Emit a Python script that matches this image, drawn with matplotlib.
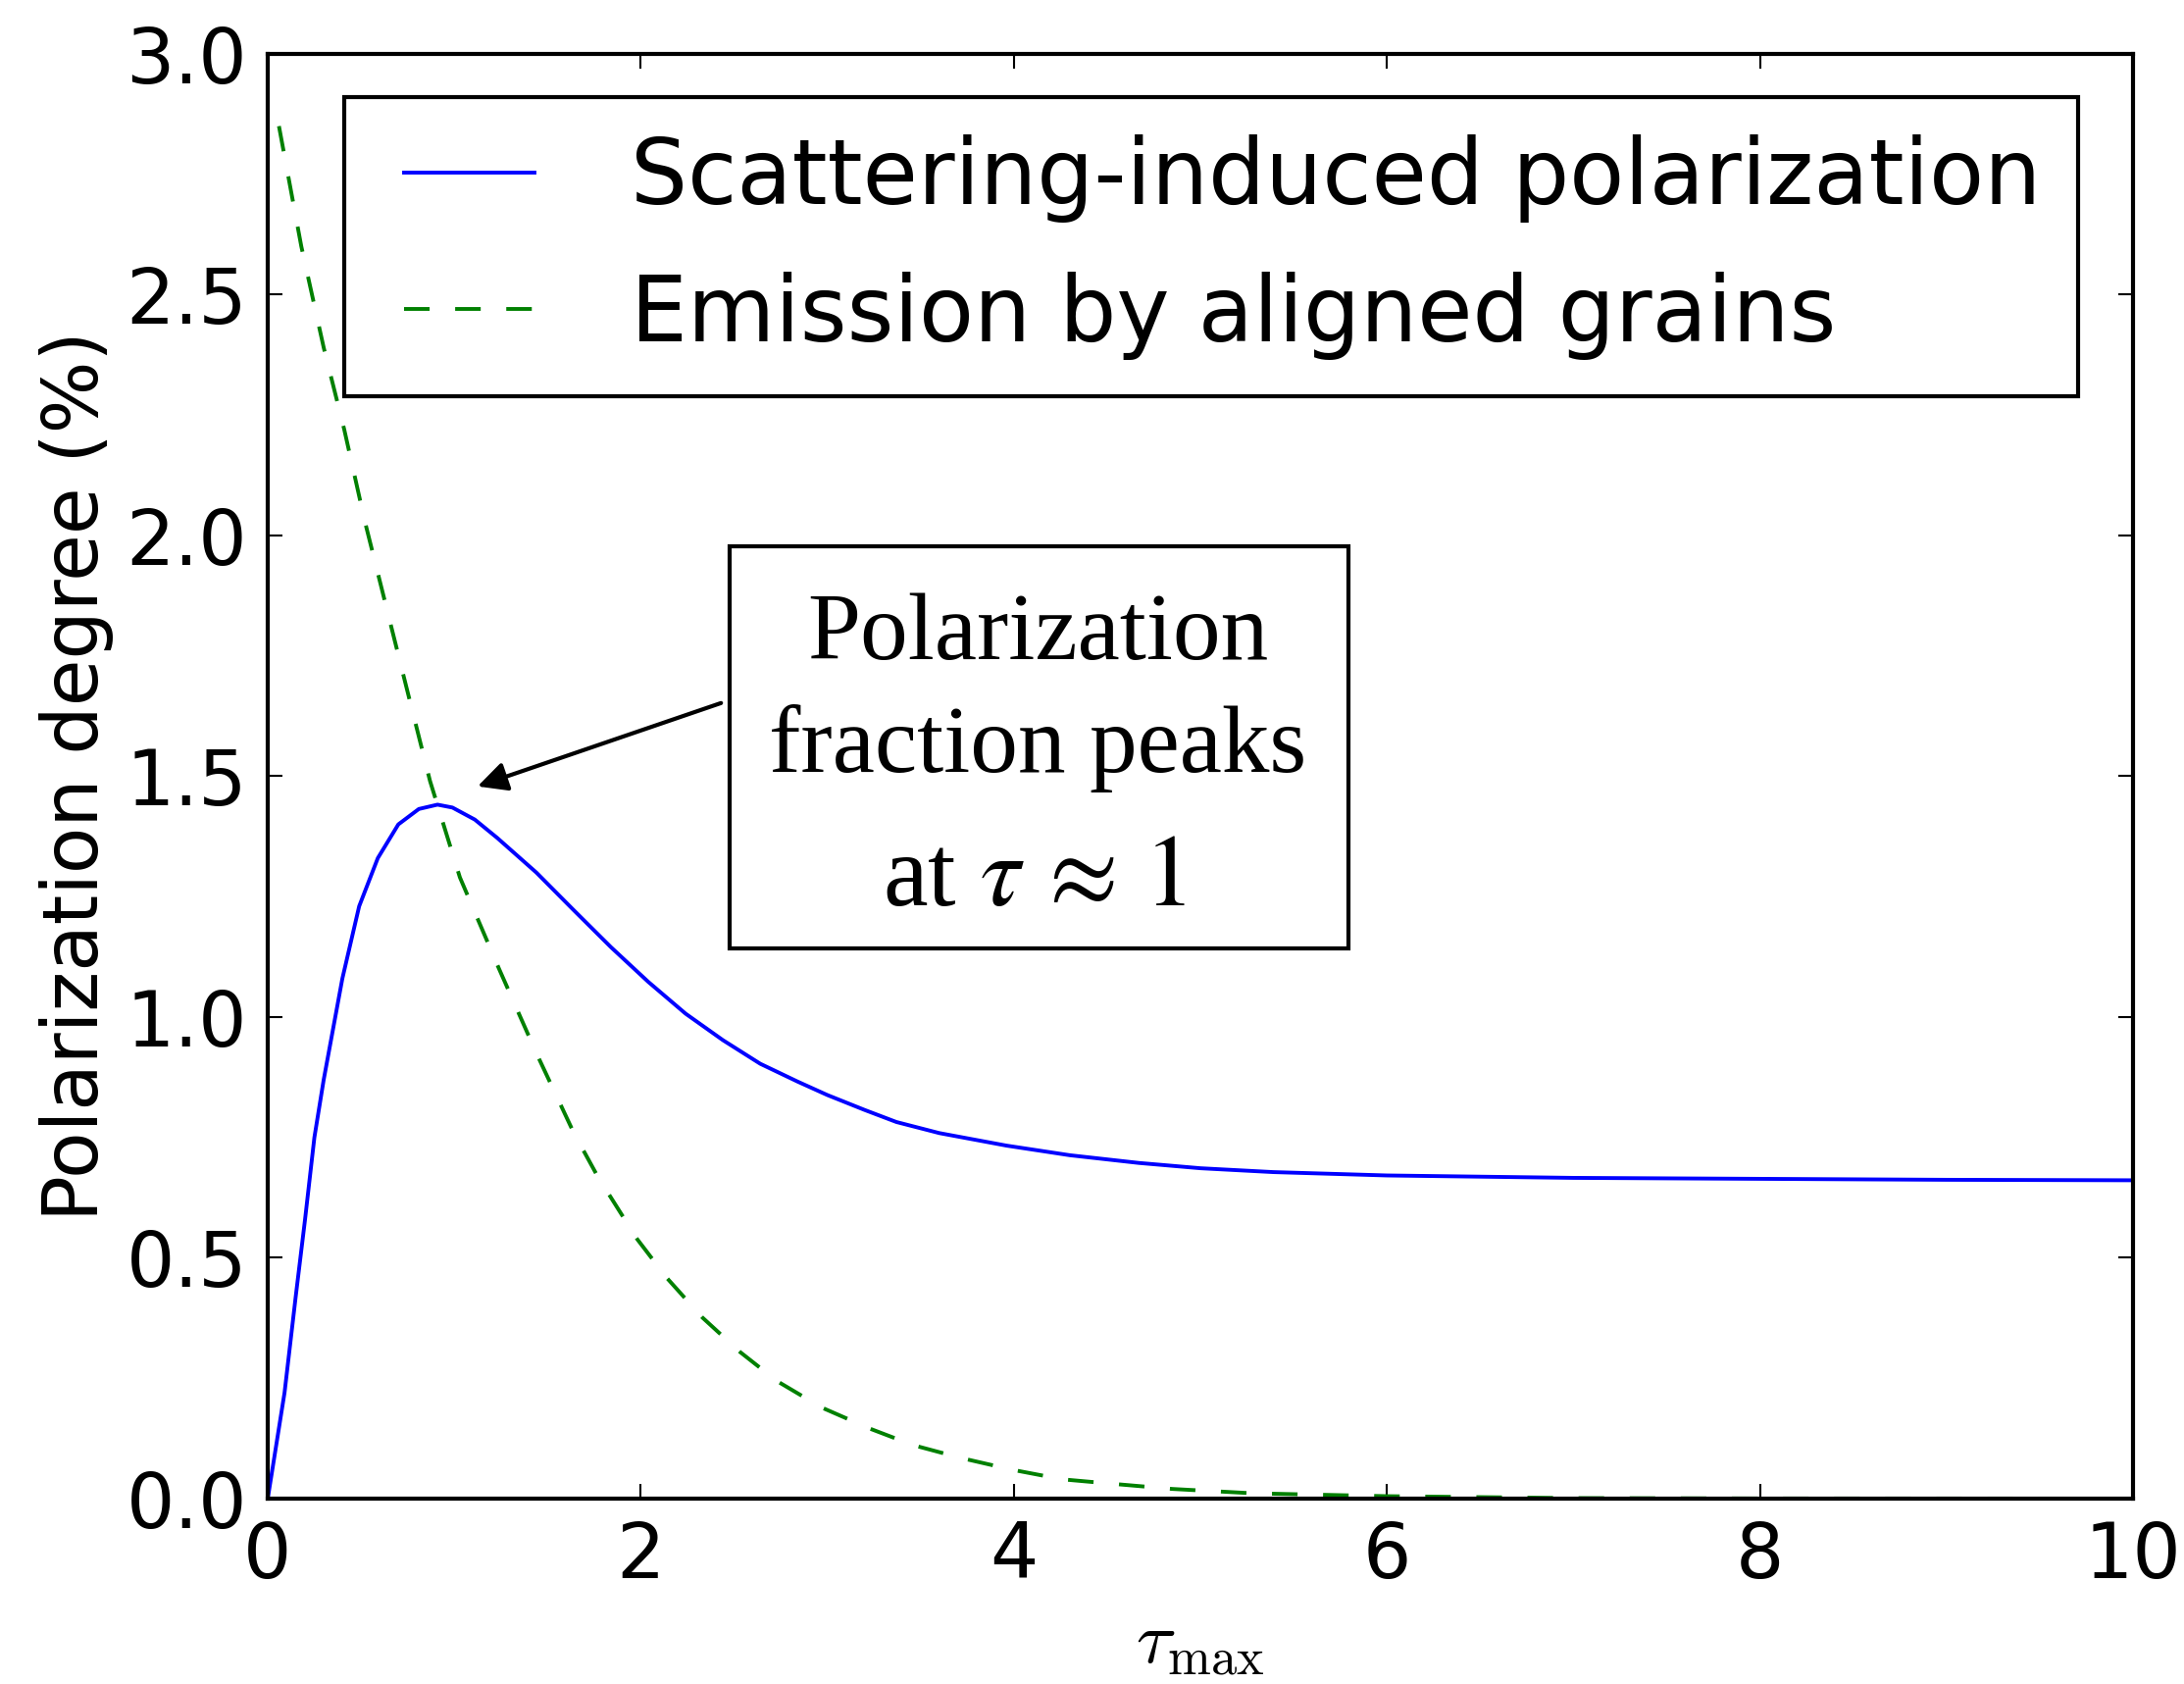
import numpy as np
import matplotlib
matplotlib.use('Agg')
import matplotlib.pyplot as plt
from matplotlib.lines import Line2D
from matplotlib.legend_handler import HandlerLine2D
from matplotlib.patches import Rectangle

# scattering-induced polarization vs tau_max (%)
tau_scat = [0.0, 0.09, 0.15, 0.2, 0.25, 0.3, 0.4, 0.49, 0.59, 0.7, 0.81, 0.91, 0.99,
            1.11, 1.23, 1.44, 1.64, 1.84, 2.04, 2.24, 2.44, 2.64, 2.84, 3.0, 3.2,
            3.37, 3.6, 3.96, 4.3, 4.67, 5.0, 5.39, 6.0, 7.0, 8.0, 9.0, 10.0]
p_scat = [0.0, 0.22, 0.42, 0.58, 0.75, 0.87, 1.08, 1.23, 1.33, 1.40, 1.432, 1.441, 1.435,
          1.41, 1.372, 1.30, 1.222, 1.145, 1.073, 1.007, 0.952, 0.903, 0.866, 0.838, 0.807,
          0.782, 0.759, 0.733, 0.713, 0.697, 0.686, 0.678, 0.671, 0.666, 0.664, 0.662, 0.661]

# emission by aligned grains (%)
tau_emis = [0.06, 0.18, 0.3, 0.41, 0.52, 0.74, 0.87, 1.03, 1.24, 1.44, 1.64, 1.77, 1.98,
            2.14, 2.33, 2.53, 2.73, 2.97, 3.23, 3.46, 3.72, 3.99, 4.26, 4.55, 4.85, 5.28,
            6.0, 6.5, 7.0, 8.0, 10.0]
p_emis = [2.85, 2.60, 2.39, 2.22, 2.03, 1.69, 1.49, 1.29, 1.10, 0.925, 0.76, 0.668, 0.539,
          0.458, 0.376, 0.305, 0.244, 0.189, 0.145, 0.111, 0.084, 0.060, 0.040, 0.030, 0.020,
          0.011, 0.005, 0.003, 0.001, 0.0002, 0.0]

xticks = [0, 2, 4, 6, 8, 10]
yticks = [0.0, 0.5, 1.0, 1.5, 2.0, 2.5, 3.0]

fig = plt.figure(figsize=(22.27, 17.17), dpi=100)
ax = fig.add_axes([0.1226, 0.1101, 0.8541, 0.8579])

ax.plot(tau_scat, p_scat, color='#0000ff', lw=2.8, label='Scattering-induced polarization')
ax.plot(tau_emis, p_emis, color='#008000', lw=2.8, linestyle=(0, (6.7, 6.7)),
        label='Emission by aligned grains')

ax.set_xlim(0, 10)
ax.set_ylim(0, 3.0)
ax.set_xticks(xticks)
ax.set_yticks(yticks)
ax.set_xticklabels([str(t) for t in xticks])
ax.set_yticklabels(['%.1f' % t for t in yticks])
ax.tick_params(direction='in', length=11, width=1.5, top=True, right=True,
               labelsize=56, pad=15)
for s in ax.spines.values():
    s.set_linewidth(3)

ax.set_ylabel('Polarization degree (%)', fontsize=56, labelpad=9)
ax.set_xlabel(r'$\tau_{\rm max}$', fontsize=54, math_fontfamily='cm', labelpad=10)

leg = ax.legend(loc='upper left', bbox_to_anchor=(0.0409, 0.9698), borderaxespad=0,
                fontsize=66, handlelength=1.71, handletextpad=1.07, borderpad=0.41,
                labelspacing=0.54, fancybox=False, framealpha=1,
                handler_map={Line2D: HandlerLine2D(xpad=0.26)})
leg.get_frame().set_edgecolor('black')
leg.get_frame().set_linewidth(3)

# annotation box with arrow pointing at the peak
ax.annotate('', xy=(1.125, 1.479), xytext=(2.43, 1.652),
            arrowprops=dict(arrowstyle='-|>', lw=3, color='black', mutation_scale=45,
                            shrinkA=0, shrinkB=0))
ax.add_patch(Rectangle((2.476, 1.143), 5.794 - 2.476, 1.978 - 1.143, fc='white',
                       ec='black', lw=3, zorder=4))
serif = dict(ha='center', va='baseline', family='Liberation Serif', zorder=5)
ax.text(4.13, 1.744, 'Polarization', fontsize=70, **serif)
ax.text(4.13, 1.510, 'fraction peaks', fontsize=70, **serif)
ax.text(4.11, 1.232, 'at $\\tau\\,\\approx\\,1$', fontsize=74, math_fontfamily='stix', **serif)

fig.savefig('out.png', dpi=100)
